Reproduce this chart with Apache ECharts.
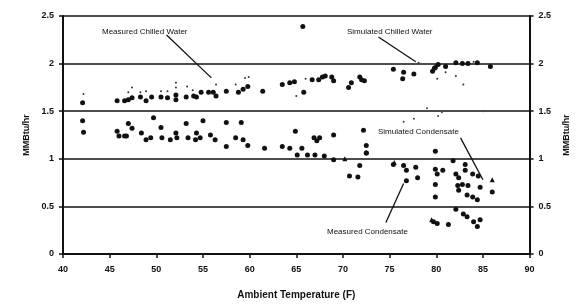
<!DOCTYPE html>
<html>
<head>
<meta charset="utf-8">
<script src="https://cdn.jsdelivr.net/npm/echarts@6/dist/echarts.min.js"></script>
<style>
  html, body { margin: 0; padding: 0; background: #fff; }
  #chart { width: 579px; height: 305px; }
</style>
</head>
<body>
<div id="chart"></div>
<script>
// measured chilled water (big dots)
var measuredChilled = [
  [42.1,1.59],[45.8,1.61],[46.6,1.61],[47.0,1.62],[47.4,1.64],[48.3,1.65],[48.9,1.61],
  [49.5,1.65],[50.5,1.65],[51.2,1.64],[52.1,1.62],[52.1,1.67],[53.2,1.65],[54.0,1.66],
  [54.3,1.65],[54.8,1.70],[55.6,1.70],[56.1,1.70],[56.4,1.66],[57.5,1.71],[58.8,1.70],
  [59.3,1.73],[59.8,1.76],[61.4,1.71],[63.5,1.78],[64.3,1.80],[64.8,1.81],[65.8,1.70],
  [66.7,1.83],[67.4,1.83],[67.8,1.86],[68.1,1.87],[68.8,1.86],[69.0,1.82],[70.6,1.75],
  [70.9,1.80],[71.8,1.86],[72.3,1.82],[72.0,1.83],[75.4,1.94],[76.5,1.91],[76.4,1.84],
  [77.6,1.89],[79.6,1.92],[79.9,1.96],[80.2,1.99],[79.8,1.95],[81.0,1.97],[82.1,2.01],
  [82.8,2.00],[83.4,2.00],[84.4,2.01],[85.8,1.97],[65.7,2.39]
];
// simulated chilled water (small dots)
var simulatedChilled = [
  [42.2,1.68],[47.4,1.75],[47.0,1.70],[48.3,1.70],[48.9,1.71],[50.5,1.71],[51.2,1.71],
  [52.1,1.80],[52.1,1.75],[53.3,1.76],[53.9,1.72],[56.4,1.78],[58.5,1.78],[59.5,1.85],
  [59.9,1.86],[65.0,1.66],[66.0,1.84],[78.1,2.01],[80.1,1.84],[82.1,1.87],[82.9,1.78],
  [81.0,1.91],[84.0,2.02]
];
// measured condensate (big dots)
var measuredCondensate = [
  [42.1,1.40],[42.2,1.28],[45.8,1.29],[46.0,1.24],[46.6,1.24],[47.0,1.37],[47.4,1.32],
  [46.8,1.24],[48.4,1.27],[48.9,1.20],[49.4,1.22],[49.7,1.43],[50.5,1.33],[50.6,1.22],
  [51.5,1.20],[52.1,1.27],[52.2,1.22],[53.2,1.37],[53.4,1.22],[54.2,1.20],[55.0,1.40],
  [57.5,1.38],[59.1,1.38],[54.3,1.27],[54.7,1.22],[55.8,1.25],[56.3,1.20],[57.5,1.13],
  [58.5,1.22],[59.3,1.20],[59.8,1.14],[61.6,1.11],[63.5,1.13],[64.3,1.11],[64.9,1.29],
  [66.9,1.22],[67.2,1.19],[65.6,1.11],[65.1,1.04],[66.2,1.04],[67.0,1.04],[68.0,1.03],
  [69.0,0.99],[70.7,0.82],[71.6,0.81],[71.8,0.93],[72.5,1.06],[75.4,0.94],[69.0,1.25],
  [72.2,1.30],[72.5,1.14],[72.5,1.06],[67.5,1.22],[79.9,1.08],[76.5,0.93],[76.8,0.88],
  [77.8,0.91],[78.0,0.80],[76.8,0.77],[79.9,0.89],[80.1,0.84],[79.9,0.73],[79.9,0.60],
  [80.7,0.88],[81.8,0.98],[82.1,0.84],[82.4,0.80],[83.1,0.94],[83.1,0.88],[83.9,0.84],
  [84.5,0.82],[84.7,0.70],[82.3,0.72],[82.8,0.73],[83.4,0.72],[82.4,0.67],[83.3,0.62],
  [83.9,0.60],[84.4,0.57],[86.0,0.65],[82.1,0.47],[82.9,0.42],[83.3,0.39],[84.0,0.34],
  [84.4,0.29],[84.7,0.36],[80.1,0.32],[81.3,0.31],[79.7,0.34]
];
// simulated condensate (triangles and small dots)
var simulatedCondensate = [
  [75.5,0.96],[86.0,0.78],[70.2,1.00],[79.5,0.36]
];
var simulatedCondensateDots = [
  [76.5,1.39],[77.6,1.42],[80.2,1.45],[80.6,1.49],[85.0,1.50],[79.0,1.53]
];

var xTicks = { min: 40, max: 90, interval: 5 };
var yTicks = { min: 0, max: 2.5, interval: 0.5 };

var callouts = [
  { text: 'Measured Chilled Water', line: [[51.1,2.30],[55.9,1.85]] },
  { text: 'Simulated Chilled Water', line: [[73.8,2.28],[77.8,2.02]] },
  { text: 'Simulated Condensate', line: [[82.6,1.22],[85.0,0.78]] },
  { text: 'Measured Condensate', line: [[74.6,0.33],[76.5,0.74]] }
];

var ink = '#111';
var fontFam = '"Liberation Sans", Arial, sans-serif';

var chart = echarts.init(document.getElementById('chart'));

function yAxisOpt(pos) {
  return {
    type: 'value', position: pos,
    min: yTicks.min, max: yTicks.max, interval: yTicks.interval,
    name: 'MMBtu/hr', nameLocation: 'middle', nameGap: pos === 'left' ? 32 : 32,
    nameRotate: 90,
    nameTextStyle: { color: ink, fontSize: 9, fontWeight: 'bold', fontFamily: fontFam },
    axisLine: { show: true, lineStyle: { color: ink, width: 2 } },
    axisTick: { show: true, length: 4, lineStyle: { color: ink, width: 1.5 } },
    axisLabel: { color: ink, fontSize: 9, fontWeight: 'bold', fontFamily: fontFam, margin: 9 },
    splitLine: { show: pos === 'left', lineStyle: { color: ink, width: 1.6 } }
  };
}

chart.setOption({
  animation: false,
  backgroundColor: '#fff',
  grid: { left: 63, right: 44, top: 16, bottom: 47 },
  xAxis: {
    type: 'value', min: xTicks.min, max: xTicks.max, interval: xTicks.interval,
    name: 'Ambient Temperature (F)', nameLocation: 'middle', nameGap: 36,
    nameTextStyle: { color: ink, fontSize: 10, fontWeight: 'bold', fontFamily: fontFam },
    axisLine: { onZero: false, lineStyle: { color: ink, width: 2 } },
    axisTick: { show: true, length: 4, lineStyle: { color: ink, width: 1.5 } },
    axisLabel: { color: ink, fontSize: 9, fontWeight: 'bold', fontFamily: fontFam, margin: 11 },
    splitLine: { show: false }
  },
  yAxis: [yAxisOpt('left'), yAxisOpt('right')],
  series: [
    {
      name: 'Measured Chilled Water', type: 'scatter', data: measuredChilled,
      symbol: 'circle', symbolSize: 5, itemStyle: { color: ink, opacity: 1 },
      markLine: {
        silent: true, symbol: 'none',
        lineStyle: { color: ink, width: 1.3, type: 'solid' },
        label: { show: false },
        data: callouts.map(function (c) {
          return [{ coord: c.line[0] }, { coord: c.line[1] }];
        })
      }
    },
    {
      name: 'Simulated Chilled Water', type: 'scatter', data: simulatedChilled,
      symbol: 'circle', symbolSize: 2, itemStyle: { color: '#333', opacity: 1 }
    },
    {
      name: 'Measured Condensate', type: 'scatter', data: measuredCondensate,
      symbol: 'circle', symbolSize: 5, itemStyle: { color: ink, opacity: 1 }
    },
    {
      name: 'Simulated Condensate', type: 'scatter', data: simulatedCondensate,
      symbol: 'triangle', symbolSize: 5, itemStyle: { color: ink, opacity: 1 }
    },
    {
      name: 'Simulated Condensate dots', type: 'scatter', data: simulatedCondensateDots,
      symbol: 'circle', symbolSize: 2, itemStyle: { color: '#444', opacity: 1 }
    }
  ],
  graphic: [
    { type: 'text', left: 102, top: 28, style: { text: callouts[0].text, fill: ink, font: '8px ' + fontFam } },
    { type: 'text', left: 347, top: 28, style: { text: callouts[1].text, fill: ink, font: '8px ' + fontFam } },
    { type: 'text', left: 378, top: 128, style: { text: callouts[2].text, fill: ink, font: '8px ' + fontFam } },
    { type: 'text', left: 327, top: 228, style: { text: callouts[3].text, fill: ink, font: '8px ' + fontFam } }
  ]
});
</script>
</body>
</html>
